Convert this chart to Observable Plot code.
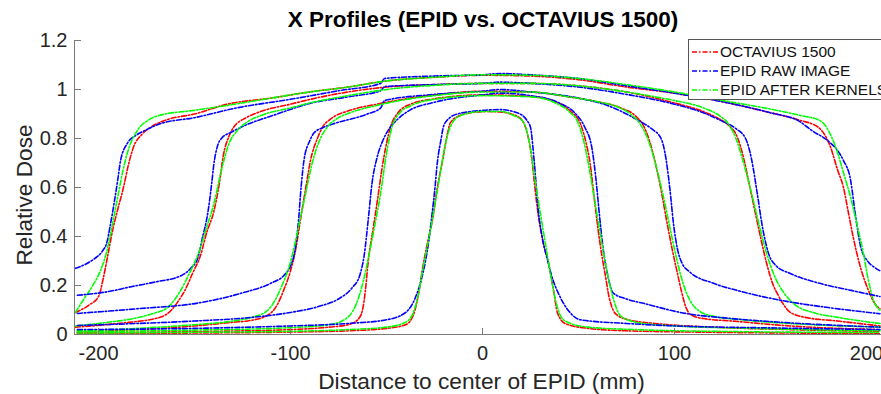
<!DOCTYPE html>
<html><head><meta charset="utf-8">
<script src="https://cdn.jsdelivr.net/npm/d3@7"></script>
<script src="https://cdn.jsdelivr.net/npm/@observablehq/plot@0.6"></script>
<style>
body{margin:0;background:#fff;}
#wrap{position:relative;width:881px;height:394px;overflow:hidden;font-family:"Liberation Sans",Arial,sans-serif;color:#262626;}
.lbl{position:absolute;white-space:nowrap;line-height:1;}
#legend{position:absolute;left:688px;top:39px;width:215px;height:59px;border:1px solid #555;background:#fff;font-size:15.5px;}
#legend .row{position:absolute;left:3px;height:19px;display:flex;align-items:center;}
#legend .row span{margin-left:2px;color:#111;}
</style></head><body><div id="wrap"></div>
<script>
const sources = ["OCTAVIUS 1500", "EPID RAW IMAGE", "EPID AFTER KERNELS"];
const colors = ["#ff0000", "#0000ff", "#00ff00"];
const xTicks = [-200, -100, 0, 100, 200];
const yTicks = [0, 0.2, 0.4, 0.6, 0.8, 1, 1.2];

// Profile A (largest field)
const octA = [[-212,0.09],[-205,0.12],[-200,0.155],[-197.5,0.23],[-195,0.33],[-192.5,0.43],[-190,0.51],[-187,0.60],[-184.5,0.69],[-182,0.76],[-177,0.82],[-172,0.85],[-165,0.875],[-150,0.90],[-133,0.94],[-110,0.965],[-90,0.99],[-70,1.01],[-50,1.035],[-25,1.05],[0,1.058],[25,1.055],[50,1.04],[75,1.01],[100,0.985],[125,0.95],[150,0.905],[165,0.875],[175,0.845],[181,0.77],[185,0.67],[188,0.60],[190.5,0.50],[193,0.40],[197,0.27],[200.5,0.19],[204,0.13],[207,0.105]];
const rawA = [[-212,0.27],[-206,0.29],[-202,0.31],[-198,0.34],[-195.5,0.38],[-194,0.44],[-192,0.53],[-190,0.63],[-188.5,0.71],[-185,0.78],[-180,0.815],[-176.5,0.83],[-168,0.86],[-150,0.885],[-128,0.925],[-100,0.96],[-75,0.995],[-53,1.025],[-51,1.045],[-25,1.055],[0,1.06],[9,1.065],[25,1.06],[50,1.045],[75,1.015],[100,0.985],[125,0.95],[150,0.905],[165,0.87],[172,0.83],[180,0.79],[185,0.75],[188,0.71],[191.7,0.63],[194,0.50],[196.9,0.36],[200.5,0.30],[204,0.275],[207,0.26]];
const kerA = [[-212,0.09],[-208,0.14],[-203,0.20],[-199,0.26],[-196,0.33],[-194,0.40],[-192,0.48],[-190,0.56],[-187.5,0.66],[-185,0.74],[-180,0.83],[-174,0.875],[-168,0.895],[-150,0.915],[-133,0.935],[-110,0.965],[-90,0.99],[-70,1.01],[-50,1.035],[-25,1.05],[0,1.06],[25,1.058],[50,1.045],[75,1.02],[100,0.99],[125,0.955],[150,0.92],[165,0.895],[176,0.872],[181,0.82],[185,0.74],[188,0.66],[191.7,0.56],[195,0.45],[198.4,0.33],[201,0.22],[203.6,0.14],[207,0.10]];

// Profile B
const octB = [[-212,0.03],[-190,0.045],[-168,0.07],[-162,0.10],[-159,0.13],[-155,0.18],[-151,0.25],[-147,0.32],[-143.5,0.42],[-140,0.50],[-137,0.62],[-135,0.73],[-132,0.81],[-129.7,0.845],[-123,0.885],[-115.6,0.91],[-100,0.94],[-89.6,0.96],[-70,0.99],[-50,1.01],[-25,1.02],[0,1.025],[25,1.025],[50,1.015],[75,0.99],[90,0.965],[100,0.945],[115,0.91],[122,0.885],[128,0.855],[133,0.80],[136,0.72],[139,0.61],[142,0.50],[145,0.39],[148,0.29],[151,0.21],[154,0.16],[157,0.12],[160,0.092],[168,0.07],[185,0.055],[207,0.035]];
const rawB = [[-211,0.16],[-195,0.175],[-183,0.195],[-170,0.215],[-157,0.24],[-152,0.27],[-148.4,0.31],[-146,0.39],[-143,0.50],[-141,0.62],[-140,0.69],[-138,0.77],[-136,0.80],[-131,0.825],[-126,0.845],[-107,0.90],[-90,0.943],[-70,0.97],[-53,0.995],[-51,1.012],[-25,1.02],[0,1.025],[9,1.03],[25,1.025],[50,1.01],[75,0.98],[100,0.94],[115,0.905],[125,0.87],[132,0.84],[137,0.80],[140,0.72],[143,0.58],[146,0.43],[149,0.33],[153,0.28],[160,0.25],[175,0.21],[192,0.18],[207,0.155]];
const kerB = [[-212,0.035],[-195,0.05],[-182,0.065],[-172,0.085],[-164,0.11],[-158,0.17],[-152,0.26],[-148,0.33],[-144,0.43],[-140,0.53],[-136,0.67],[-132,0.78],[-128,0.83],[-122,0.87],[-115,0.895],[-100,0.925],[-90,0.945],[-70,0.975],[-50,1.0],[-25,1.017],[0,1.025],[25,1.025],[50,1.015],[75,0.99],[90,0.97],[100,0.955],[115,0.925],[123,0.895],[128,0.86],[132,0.80],[136,0.70],[140,0.58],[144,0.45],[148,0.33],[152,0.24],[157,0.17],[163,0.12],[172,0.09],[185,0.07],[207,0.045]];

// Profile C
const octC = [[-211,0.01],[-180,0.02],[-150,0.035],[-130,0.05],[-121,0.057],[-112,0.078],[-107,0.12],[-103.6,0.18],[-100,0.26],[-97,0.36],[-95,0.46],[-92,0.60],[-89.6,0.71],[-86,0.80],[-83,0.85],[-79,0.88],[-69,0.915],[-55,0.94],[-43,0.958],[-25,0.978],[0,0.993],[25,0.99],[45,0.97],[60,0.95],[72,0.925],[80,0.89],[84,0.85],[87,0.79],[90,0.70],[93,0.59],[96,0.46],[99,0.34],[101.5,0.25],[103.5,0.18],[106,0.11],[108.5,0.08],[115,0.065],[130,0.055],[160,0.035],[207,0.02]];
const rawC = [[-211,0.086],[-180,0.105],[-147,0.13],[-125,0.17],[-110,0.21],[-103.6,0.24],[-100,0.28],[-98,0.33],[-96,0.45],[-94.5,0.6],[-93,0.71],[-90,0.79],[-88,0.82],[-83,0.845],[-77.6,0.86],[-60,0.90],[-53,0.925],[-51,0.955],[-25,0.98],[0,0.993],[9,1.0],[25,0.99],[50,0.965],[65,0.935],[75,0.9],[82,0.87],[88,0.84],[93,0.80],[95.5,0.72],[97.5,0.6],[99.5,0.45],[101.5,0.35],[104,0.29],[108,0.255],[120,0.21],[135,0.175],[155,0.14],[180,0.11],[207,0.085]];
const kerC = [[-211,0.015],[-180,0.025],[-150,0.04],[-130,0.055],[-120,0.07],[-112,0.098],[-108,0.14],[-105,0.19],[-101,0.27],[-98,0.36],[-95,0.47],[-92,0.58],[-89,0.69],[-85,0.79],[-81,0.845],[-76,0.88],[-69,0.905],[-55,0.935],[-43,0.955],[-25,0.975],[0,0.99],[25,0.99],[45,0.97],[60,0.95],[70,0.93],[77,0.9],[82,0.86],[86,0.80],[90,0.70],[94,0.57],[97.5,0.44],[100.5,0.33],[104,0.22],[108,0.14],[113,0.095],[120,0.075],[135,0.06],[160,0.045],[207,0.03]];

// Profile D
const octD = [[-211,0.008],[-150,0.012],[-100,0.02],[-80,0.03],[-70,0.04],[-65,0.06],[-62.5,0.10],[-61,0.18],[-59.5,0.30],[-57,0.43],[-54.5,0.56],[-52.5,0.67],[-50,0.78],[-48,0.845],[-44,0.905],[-37.5,0.94],[-25,0.962],[0,0.978],[25,0.972],[38,0.95],[46,0.91],[51,0.86],[54,0.78],[56,0.70],[58,0.57],[60,0.44],[62,0.33],[64,0.24],[66,0.15],[68,0.10],[70,0.08],[76,0.06],[90,0.045],[120,0.03],[160,0.02],[207,0.012]];
const rawD = [[-211,0.037],[-180,0.045],[-150,0.055],[-120,0.07],[-100,0.09],[-85,0.115],[-75,0.145],[-68,0.19],[-64,0.24],[-61.5,0.33],[-59.5,0.47],[-57.5,0.62],[-55,0.72],[-52,0.79],[-49,0.835],[-44,0.88],[-38,0.915],[-25,0.948],[0,0.978],[9,0.985],[25,0.975],[40,0.945],[48,0.905],[53,0.85],[57,0.76],[59,0.64],[61,0.48],[63,0.34],[65,0.25],[68,0.17],[75,0.145],[85,0.125],[103,0.09],[130,0.065],[155,0.05],[207,0.03]];
const kerD = [[-211,0.012],[-150,0.018],[-100,0.028],[-80,0.04],[-72,0.06],[-66,0.12],[-62,0.22],[-59,0.33],[-56,0.45],[-53,0.58],[-50,0.74],[-47,0.85],[-43,0.905],[-37,0.935],[-25,0.96],[0,0.975],[25,0.97],[38,0.945],[45,0.91],[50,0.86],[53,0.78],[56,0.66],[59,0.52],[62,0.38],[65,0.25],[68,0.15],[72,0.075],[80,0.05],[100,0.035],[140,0.025],[207,0.015]];

// Profile E (smallest field)
const octE = [[-211,0.004],[-150,0.006],[-100,0.01],[-70,0.015],[-50,0.025],[-40,0.04],[-36,0.08],[-33,0.18],[-31,0.28],[-28.5,0.38],[-26,0.47],[-23.5,0.60],[-20.8,0.71],[-18.5,0.81],[-16.7,0.865],[-12,0.893],[-5,0.906],[2,0.91],[9,0.908],[15,0.9],[20,0.88],[23,0.83],[25.5,0.73],[27,0.62],[29,0.49],[31.5,0.38],[34.4,0.29],[37,0.18],[39,0.09],[43,0.045],[55,0.025],[75,0.015],[110,0.01],[160,0.006],[207,0.004]];
const rawE = [[-211,0.02],[-150,0.025],[-100,0.035],[-70,0.045],[-50,0.06],[-40,0.09],[-35,0.15],[-32,0.22],[-29.7,0.30],[-28,0.38],[-26.6,0.47],[-25,0.58],[-23.4,0.71],[-21.5,0.80],[-20.3,0.85],[-17,0.885],[-13,0.90],[-1,0.914],[9,0.918],[18,0.905],[23,0.875],[25,0.845],[27,0.70],[29,0.51],[31,0.40],[34,0.30],[36,0.24],[40,0.16],[45,0.095],[51,0.06],[75,0.045],[100,0.035],[150,0.027],[207,0.02]];
const kerE = [[-211,0.006],[-150,0.009],[-100,0.013],[-70,0.02],[-50,0.03],[-40,0.05],[-36,0.09],[-33.5,0.16],[-31,0.27],[-28,0.39],[-25,0.52],[-22,0.66],[-19,0.79],[-16,0.86],[-11,0.895],[0,0.91],[10,0.91],[16,0.895],[21,0.87],[24,0.8],[27,0.65],[30,0.50],[33,0.36],[36,0.22],[39,0.11],[43,0.055],[55,0.03],[80,0.02],[130,0.012],[207,0.008]];

const profiles = [
  [octA, rawA, kerA],
  [octB, rawB, kerB],
  [octC, rawC, kerC],
  [octD, rawD, kerD],
  [octE, rawE, kerE]
];

const rows = [];
profiles.forEach((trio, pi) => {
  trio.forEach((pts, si) => {
    pts.forEach(([x, y]) => rows.push({x, y, src: sources[si], key: pi + "-" + si}));
  });
});

const W = 881, H = 394, mL = 74, mR = 0, mT = 40, mB = 60;
const plotW = W - mL - mR, plotH = H - mT - mB;
const dash = "5,2,1.5,2";

const chart = Plot.plot({
  width: W, height: H,
  marginLeft: mL, marginRight: mR, marginTop: mT, marginBottom: mB,
  x: {domain: [-212.5, 207.8]},
  y: {domain: [0, 1.2]},
  color: {domain: sources, range: colors},
  style: {fontFamily: '"Liberation Sans", Arial, sans-serif', fontSize: "20px", color: "#262626", background: "#fff"},
  marks: [
    Plot.line(rows, {x: "x", y: "y", z: "key", stroke: "src", curve: "monotone-x", strokeWidth: 1.6, strokeDasharray: dash, clip: true}),
    Plot.ruleX([-212.5], {stroke: "#7a7a7a", strokeWidth: 1}),
    Plot.ruleY([0], {stroke: "#7a7a7a", strokeWidth: 1}),
    Plot.tickX(xTicks, {x: d => d, insetTop: plotH - 6, stroke: "#7a7a7a"}),
    Plot.tickY(yTicks, {y: d => d, insetRight: plotW - 7, stroke: "#7a7a7a"}),
    Plot.axisX({ticks: xTicks, tickSize: 0, tickPadding: 11, tickFormat: d => String(d), label: null, fill: "#262626"}),
    Plot.axisY({ticks: yTicks, tickSize: 0, tickPadding: 7, tickFormat: d => String(d), label: null, fill: "#262626"})
  ]
});

const wrap = document.getElementById("wrap");
wrap.appendChild(chart);

function addLabel(text, cx, cy, size, weight, rotate) {
  const s = document.createElement("div");
  s.className = "lbl";
  s.textContent = text;
  s.style.left = cx + "px";
  s.style.top = cy + "px";
  s.style.fontSize = size + "px";
  s.style.fontWeight = weight;
  s.style.color = weight === "bold" ? "#000" : "#262626";
  s.style.transform = "translate(-50%,-50%)" + (rotate ? " rotate(-90deg)" : "");
  wrap.appendChild(s);
}
addLabel("X Profiles (EPID vs. OCTAVIUS 1500)", 483, 20, 22.5, "bold", false);
addLabel("Distance to center of EPID (mm)", 481.5, 380.5, 22.7, "normal", false);
addLabel("Relative Dose", 24, 195, 22.7, "normal", true);

const legend = document.createElement("div");
legend.id = "legend";
sources.forEach((name, i) => {
  const row = document.createElement("div");
  row.className = "row";
  row.style.top = (2 + i * 19) + "px";
  row.innerHTML = `<svg width="26" height="6"><line x1="0" y1="3" x2="26" y2="3" stroke="${colors[i]}" stroke-width="1.6" stroke-dasharray="${dash}"/></svg><span>${name}</span>`;
  legend.appendChild(row);
});
wrap.appendChild(legend);
</script></body></html>
